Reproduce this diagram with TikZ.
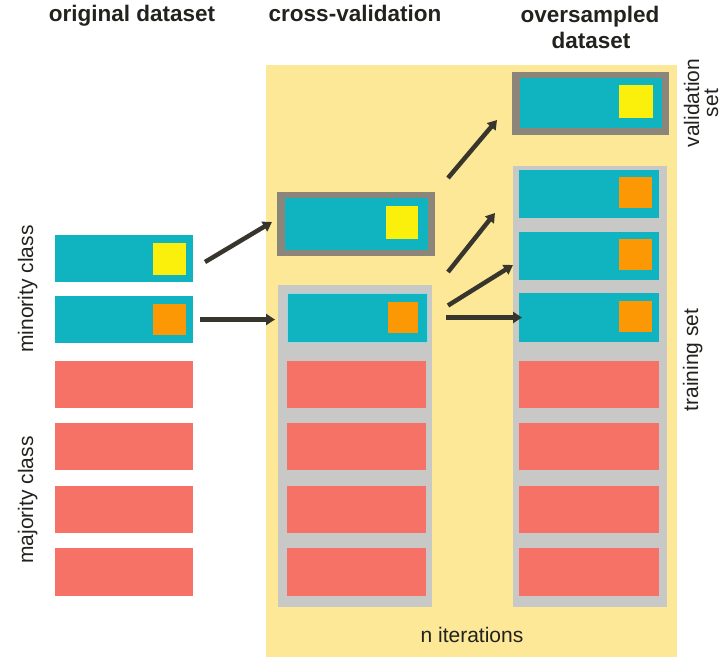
\documentclass[tikz,border=0pt]{standalone}
\usepackage{fontspec}
\setmainfont{Liberation Sans}
\usetikzlibrary{arrows.meta}
\definecolor{tealc}{RGB}{16,180,192}
\definecolor{yelc}{RGB}{250,240,12}
\definecolor{orac}{RGB}{252,152,4}
\definecolor{redc}{RGB}{246,114,102}
\definecolor{bgc}{RGB}{253,232,152}
\definecolor{dgray}{RGB}{140,134,122}
\definecolor{lgray}{RGB}{200,200,198}
\definecolor{arrc}{RGB}{56,54,44}
\definecolor{txtc}{RGB}{34,34,30}
\newcommand\mybx[6]{\node[boxbase,#2,minimum width={#5-#3},minimum height={#6-#4}] (#1) at (#3,#4) {};}
\begin{document}
\begin{tikzpicture}[x=1pt,y=-1pt,
  boxbase/.style={draw=none,inner sep=0pt,outer sep=0pt,anchor=north west},
  teal/.style={fill=tealc},
  yel/.style={fill=yelc},
  ora/.style={fill=orac},
  red/.style={fill=redc},
  dframe/.style={fill=dgray},
  lframe/.style={fill=lgray},
  arr/.style={draw=arrc,line width=4.5pt,-{Triangle[length=9pt,width=11pt]}},
  ttl/.style={font=\fontsize{22.5}{26}\selectfont\bfseries,text=txtc,anchor=base,inner sep=0pt},
  lbl/.style={font=\fontsize{21}{19}\selectfont,text=txtc,inner sep=0pt,align=center},
]
\fill[white] (0,0) rectangle (727,664);
\useasboundingbox (0,0) rectangle (727,664);
% yellow background
\mybx{bg}{fill=bgc}{266}{65}{677}{657}
% titles
\node[ttl] (t1) at (132,21) {original dataset};
\node[ttl] (t2) at (355,21) {cross-validation};
\node[ttl] (t3) at (590,22) {oversampled};
\node[ttl] (t4) at (591,48) {dataset};
% left column
\mybx{L1}{teal}{55}{235}{193}{282}
\mybx{L1s}{yel}{153}{243}{186}{275}
\mybx{L2}{teal}{55}{296}{193}{343}
\mybx{L2s}{ora}{153}{304}{186}{335}
\mybx{L3}{red}{55}{361}{193}{408}
\mybx{L4}{red}{55}{423}{193}{470}
\mybx{L5}{red}{55}{486}{193}{533}
\mybx{L6}{red}{55}{548}{193}{596}
\node[lbl,rotate=90,anchor=base] (lmin) at (33,289) {minority class};
\node[lbl,rotate=90,anchor=base] (lmaj) at (33,500) {majority class};
% middle column
\mybx{MV}{dframe}{277}{192}{435}{256}
\mybx{MVt}{teal}{285}{198}{428}{250}
\mybx{MVs}{yel}{386}{206}{418}{239}
\mybx{MT}{lframe}{278}{285}{432}{607}
\mybx{M1}{teal,draw={rgb,255:red,150;green,215;blue,225},line width=1pt}{287}{293}{427}{342}
\mybx{M1s}{ora}{388}{302}{418}{333}
\mybx{M2}{red}{287}{361}{426}{408}
\mybx{M3}{red}{287}{423}{426}{470}
\mybx{M4}{red}{287}{486}{426}{533}
\mybx{M5}{red}{287}{548}{426}{596}
% right column
\mybx{RV}{dframe}{512}{72}{669}{135}
\mybx{RVt}{teal}{520}{78}{662}{128}
\mybx{RVs}{yel}{619}{85}{653}{118}
\mybx{RT}{lframe}{513}{166}{667}{607}
\mybx{R1}{teal}{519}{170}{659}{218}
\mybx{R1s}{ora}{619}{177}{652}{208}
\mybx{R2}{teal}{519}{232}{659}{280}
\mybx{R2s}{ora}{619}{239}{652}{270}
\mybx{R3}{teal}{519}{293}{659}{342}
\mybx{R3s}{ora}{619}{301}{652}{332}
\mybx{R4}{red}{519}{361}{659}{408}
\mybx{R5}{red}{519}{423}{659}{470}
\mybx{R6}{red}{519}{486}{659}{533}
\mybx{R7}{red}{519}{548}{659}{596}
\node[lbl,rotate=90,anchor=center] (lval) at (701,103) {validation\\set};
\node[lbl,rotate=90,anchor=base] (ltr) at (698,360) {training set};
\node[lbl,anchor=base] (lit) at (472,642) {n iterations};
% arrows
\draw[arr] ([shift={(12,3.5)}]L1.east) -- ([shift={(-5,-2)}]MV.west);
\draw[arr] ([shift={(7,0)}]L2.east) -- ([shift={(-12,2)}]M1.west);
\draw[arr] ([shift={(13,-14)}]MV.north east) -- ([shift={(-15,16.5)}]RV.west);
\draw[arr] ([shift={(21,-21)}]M1.north east) -- ([shift={(-24,19)}]R1.west);
\draw[arr] ([shift={(21,-12)}]M1.east) -- ([shift={(-6,9)}]R2.west);
\draw[arr] ([shift={(19,0)}]M1.east) -- ([shift={(3,0)}]R3.west);
\end{tikzpicture}
\end{document}
